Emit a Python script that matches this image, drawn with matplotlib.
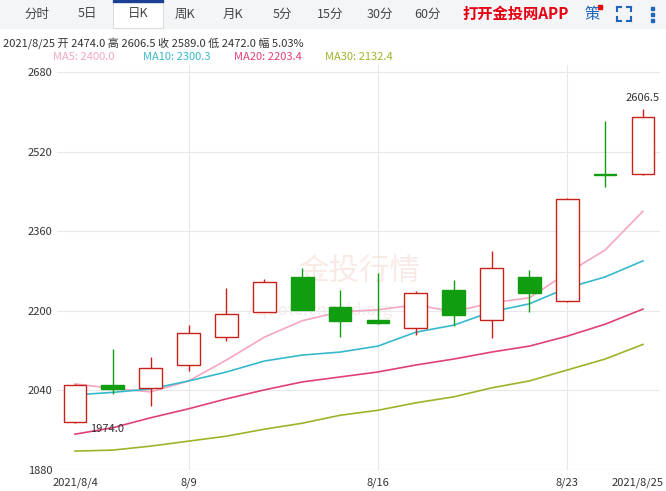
import matplotlib
matplotlib.use("Agg")
import matplotlib.pyplot as plt
from matplotlib.patches import Rectangle
from matplotlib.lines import Line2D
plt.rcParams['font.family'] = ['Noto Sans CJK SC', 'DejaVu Sans']

dates = ["2021/8/4","8/5","8/6","8/9","8/10","8/11","8/12","8/13","8/16","8/17","8/18","8/19","8/20","8/23","8/24","2021/8/25"]
opens  = [1976,2050,2045,2091,2147,2198,2268,2208,2182,2165,2242,2182,2268,2220,2475,2474]
closes = [2050,2042,2085,2155,2194,2258,2202,2180,2176,2236,2192,2286,2236,2425,2472,2589]
highs  = [2052,2123,2107,2171,2246,2264,2286,2242,2276,2240,2262,2320,2282,2427,2582,2606.5]
lows   = [1974,2033,2009,2079,2139,2198,2202,2147,2173,2151,2170,2145,2198,2218,2449,2472]
ma5  = [2053,2044,2037,2059,2101,2147,2180,2198,2202,2212,2198,2216,2226,2276,2322,2400.0]
ma10 = [2031,2036,2043,2059,2077,2099,2111,2117,2129,2157,2171,2198,2214,2246,2268,2300.3]
ma20 = [1952,1965,1985,2003,2023,2041,2057,2067,2077,2091,2103,2117,2129,2149,2173,2203.4]
ma30 = [1918,1920,1928,1938,1948,1962,1974,1990,2000,2015,2027,2045,2059,2081,2103,2132.4]
yticks = [1880,2040,2200,2360,2520,2680]
xtick_idx = [0,3,8,13,15]
tabs = ["分时","5日","日K","周K","月K","5分","15分","30分","60分"]

fig = plt.figure(figsize=(6.66,4.91), dpi=100)
W, H = 666, 491
fig.patches.append(Rectangle((0,(H-28)/H),1,28/H,transform=fig.transFigure,color='#f4f5f7',zorder=0))
tab_x = [37,87,138,185,233,282,330,380,428]
for t,x in zip(tabs,tab_x):
    if t=="日K":
        fig.patches.append(Rectangle(((x-25)/W,(H-28)/H),50/W,28/H,transform=fig.transFigure,facecolor='white',edgecolor='#dddddd',lw=0.8,zorder=1))
        fig.patches.append(Rectangle(((x-25)/W,(H-2)/H),50/W,2/H,transform=fig.transFigure,color='#1c3f94',zorder=2))
    fig.text(x/W,(H-14)/H,t,ha='center',va='center',fontsize=9,color='#444444',zorder=3)
fig.text(516/W,(H-14)/H,"打开金投网APP",ha='center',va='center',fontsize=11,color='#e60012',fontweight='bold')
fig.text(592/W,(H-14)/H,"策",ha='center',va='center',fontsize=11,color='#2266bb')
fig.patches.append(Rectangle((598/W,(H-9)/H),4/W,4/H,transform=fig.transFigure,color='red'))
# fullscreen icon corners
cx, cy, s, k = 624, 14, 7, 4
for dx in (-1,1):
    for dy in (-1,1):
        px, py = cx+dx*s, cy+dy*s
        fig.lines.append(Line2D([px/W,(px-dx*k)/W],[(H-py)/H,(H-py)/H],transform=fig.transFigure,color='#2266bb',lw=1.5))
        fig.lines.append(Line2D([px/W,px/W],[(H-py)/H,(H-py+dy*k)/H],transform=fig.transFigure,color='#2266bb',lw=1.5))
for dy in (-6,0,6):
    fig.patches.append(Rectangle((651/W,(H-14-dy-1.5)/H),3/W,3/H,transform=fig.transFigure,color='#2266bb'))
fig.text(3/W,(H-43)/H,"2021/8/25 开 2474.0 高 2606.5 收 2589.0 低 2472.0 幅 5.03%",ha='left',va='center',fontsize=8,color='#333333')
for x,t,c in [(53,"MA5: 2400.0","#f4a7bf"),(143,"MA10: 2300.3","#36b9cc"),(234,"MA20: 2203.4","#e0407a"),(325,"MA30: 2132.4","#9ab52a")]:
    fig.text(x/W,(H-57)/H,t,ha='left',va='center',fontsize=8,color=c)

ax = fig.add_axes([57/W,(H-470)/H,603/W,405/H])
ax.set_xlim(-0.475,15.45)
ax.set_ylim(1880,2694)
for s_ in ax.spines.values(): s_.set_visible(False)
ax.set_yticks(yticks)
ax.set_xticks(xtick_idx[1:-1])
ax.set_xticklabels([])
ax.grid(True,color='#e8e8e8',lw=0.8)
ax.tick_params(length=0,labelsize=8,colors='#333333')
ax.axhline(1880,color='#e8e8e8',lw=0.8)
for i in xtick_idx:
    ha = 'right' if i==15 else 'center'
    xx = 15.55 if i==15 else i
    ax.text(xx,1855,dates[i],ha=ha,va='center',fontsize=8,color='#333333',clip_on=False)
ax.set_axisbelow(True)

ax.text(7.5,2280,"金投行情",fontsize=22,color='#f5dcd6',ha='center',va='center',zorder=0.5,alpha=0.6)
ax.text(6.5,2200,"Aquote.cngold.org",fontsize=12,color='#eee0dc',ha='center',va='center',zorder=0.5,alpha=0.6)

x = list(range(len(dates)))
for arr,c in [(ma5,"#f4a7bf"),(ma10,"#36b9cc"),(ma20,"#e0407a"),(ma30,"#9ab52a")]:
    ax.plot(x,arr,color=c,lw=1.2,zorder=2)
w = 0.6
for i in x:
    o,c,h,l = opens[i],closes[i],highs[i],lows[i]
    up = c>=o
    col = '#c8201a' if up else '#109d0f'
    lo, hi = min(o,c), max(o,c)
    ax.vlines(i,l,lo,color=col,lw=1,zorder=3)
    ax.vlines(i,hi,h,color=col,lw=1,zorder=3)
    ax.add_patch(Rectangle((i-w/2,lo),w,max(hi-lo,1.5),facecolor='white' if up else col,edgecolor=col,lw=1,zorder=4))
ax.text(0.4,1962,"1974.0",fontsize=8,color='#333333',va='center')
ax.text(15,2628,"2606.5",fontsize=8,color='#333333',ha='center',va='center')
fig.savefig("out.png")
